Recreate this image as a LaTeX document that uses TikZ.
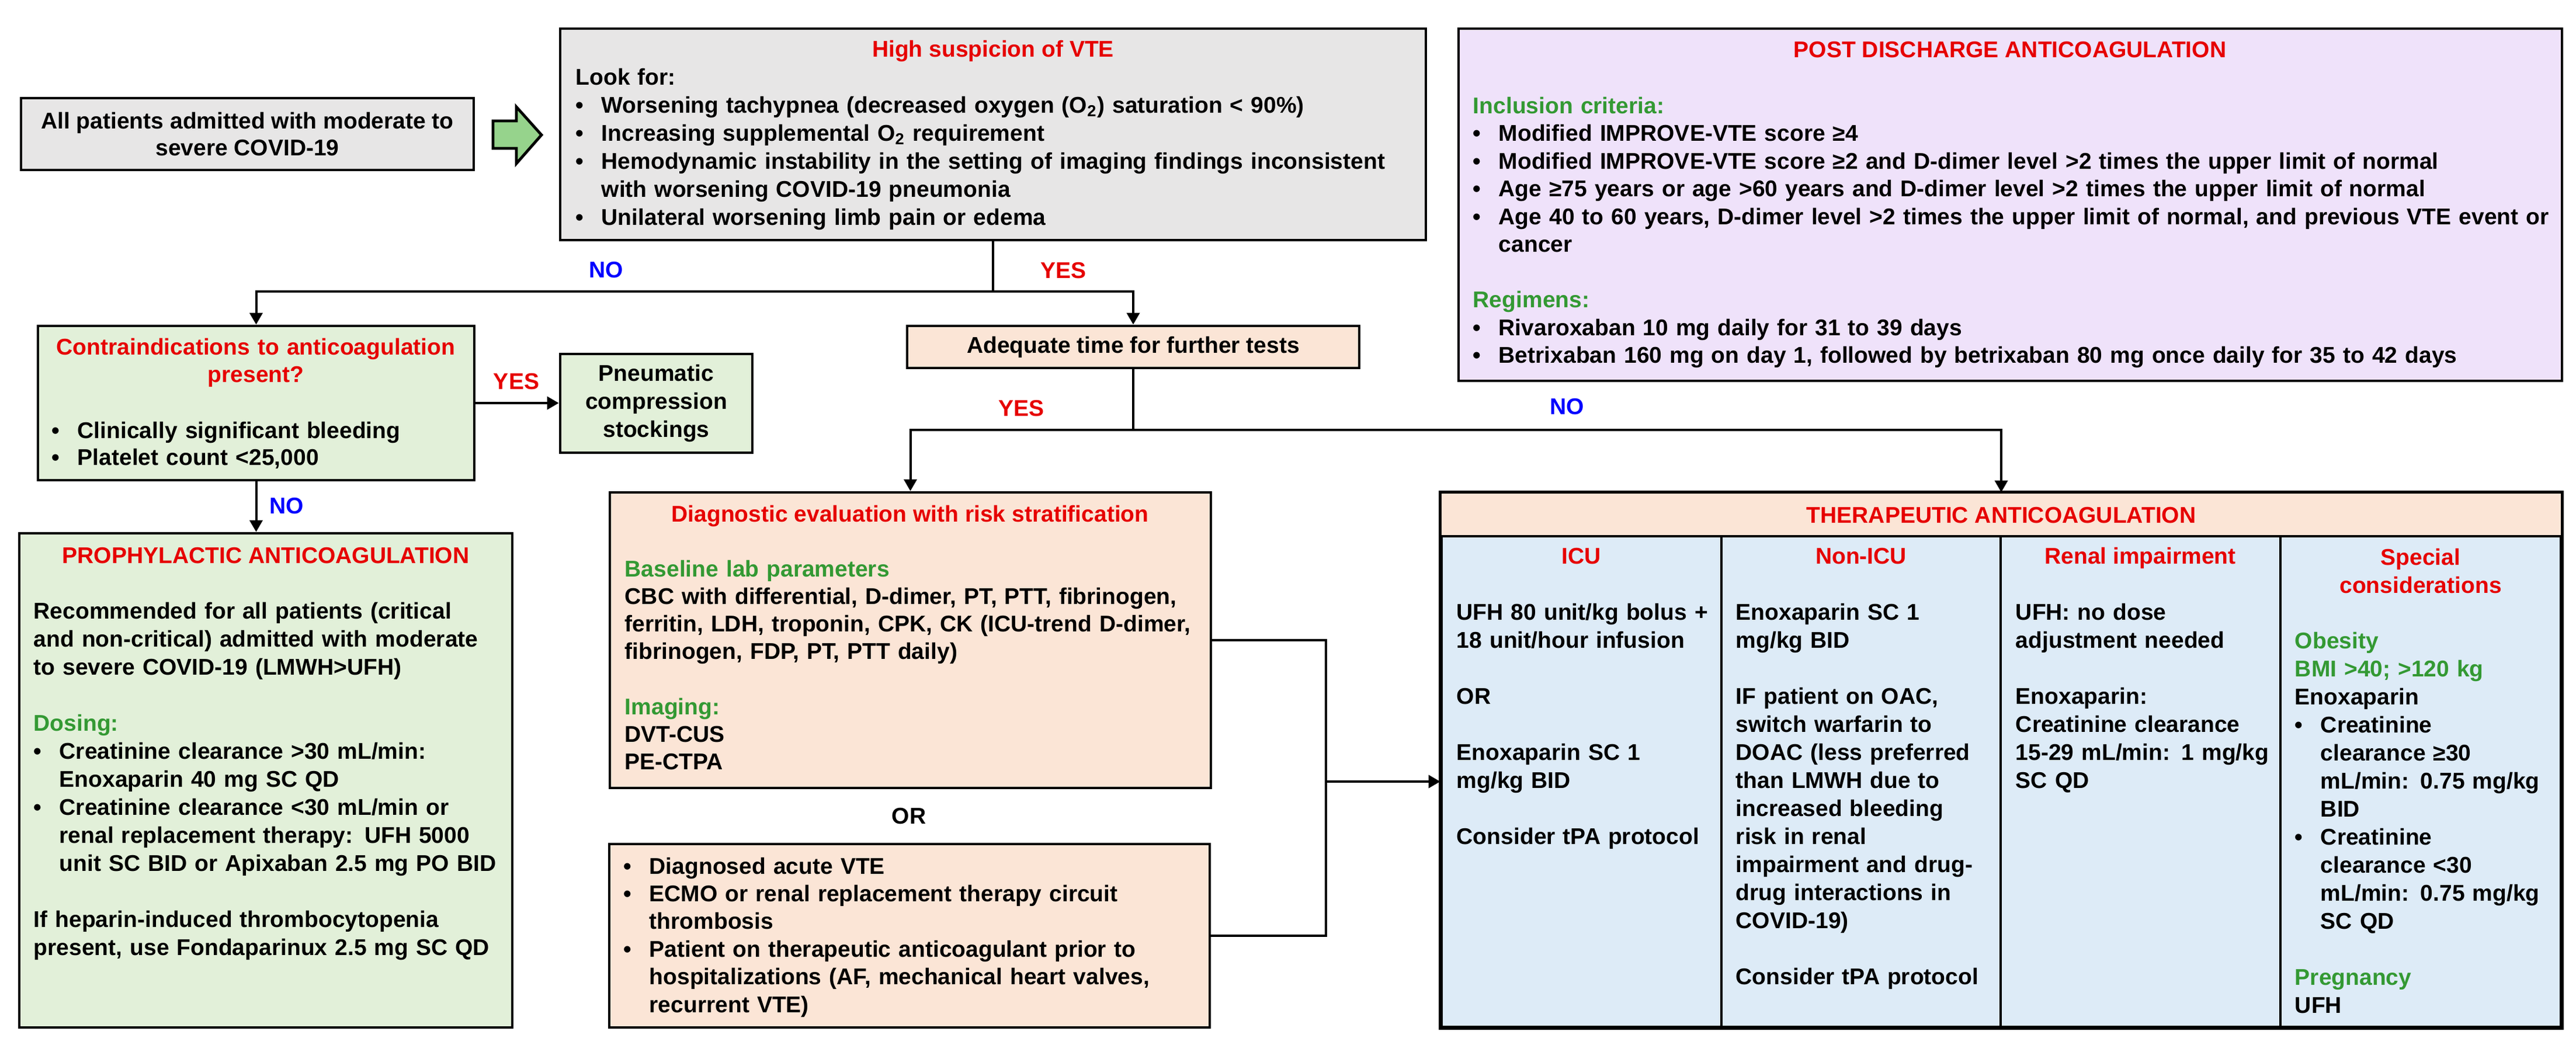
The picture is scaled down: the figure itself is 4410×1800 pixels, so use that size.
\documentclass[tikz,border=0pt]{standalone}
\usepackage{fontspec}
\setmainfont{Liberation Sans}
\usetikzlibrary{arrows.meta,fit}
\definecolor{boxgray}{HTML}{E7E6E6}
\definecolor{boxgreen}{HTML}{E2F0D9}
\definecolor{boxpeach}{HTML}{FBE5D6}
\definecolor{boxlav}{HTML}{EFE2FA}
\definecolor{boxblue}{HTML}{DDEBF7}
\definecolor{txtred}{HTML}{E60000}
\definecolor{txtgreen}{HTML}{339933}
\definecolor{txtblue}{HTML}{0000FF}
\definecolor{arrowgreen}{HTML}{96D38C}
\newcommand\bul{\makebox[11pt][l]{•}}
\newcommand\ind{\hspace*{11pt}}
\newcommand\grn[1]{\textcolor{txtgreen}{#1}}
\newcommand\bodyfont{\bfseries\fontsize{9.75}{12}\selectfont}
\tikzset{
  box/.style={draw=black, line width=1.2pt, inner sep=0pt, rectangle},
  body/.style={anchor=base west, text width=#1, align=left, inner sep=0pt, font=\bodyfont},
  body/.default=400pt,
  ttl/.style={anchor=base, inner sep=0pt, text=txtred, font=\bodyfont},
  lbl/.style={inner sep=0pt, font=\bodyfont},
  conn/.style={line width=1pt, draw=black},
  arr/.style={conn, -{Triangle[length=5pt,width=5.5pt]}},
}
\begin{document}
\begin{tikzpicture}[x=0.25pt,y=-0.25pt]
\useasboundingbox (0,0) rectangle (4410,1800);

% ---------- boxes ----------
\node[box, fill=boxgray, fit={(36,168)(811,291)}] (start) {};
\node[box, fill=boxgray, fit={(959,49)(2441,411)}] (susp) {};
\node[box, fill=boxlav, fit={(2497,49)(4386,652)}] (post) {};
\node[box, fill=boxgreen, fit={(65,558)(812,822)}] (contra) {};
\node[box, fill=boxgreen, fit={(959,606)(1288,775)}] (pneu) {};
\node[box, fill=boxgreen, fit={(33,913)(877,1759)}] (proph) {};
\node[box, fill=boxpeach, fit={(1553,558)(2327,630)}] (adeq) {};
\node[box, fill=boxpeach, fit={(1044,843)(2073,1349)}] (diag) {};
\node[box, fill=boxpeach, fit={(1043,1445)(2071,1759)}] (orb) {};
\node[box, fill=boxblue, fit={(2468,845)(4384,1758)}] (ther) {};
\fill[boxpeach] (2468,845) rectangle (4384,918);
\draw[line width=1.2pt] (2468,918) -- (4384,918);
\draw[line width=1.2pt] (2947,918) -- (2947,1758);
\draw[line width=1.2pt] (3425,918) -- (3425,1758);
\draw[line width=1.2pt] (3904,918) -- (3904,1758);
\draw[box] (ther.north west) rectangle (ther.south east);

% ---------- green block arrow ----------
\draw[line width=1.2pt, fill=arrowgreen, line join=miter]
  (844,207) -- (884,207) -- (884,183) -- (927,231) -- (884,280) -- (884,254) -- (844,254) -- cycle;

% ---------- texts ----------
\node[lbl, align=center, font=\bfseries\fontsize{9.75}{11.5}\selectfont] (startT) at (start.center)
  {All patients admitted with moderate to\\severe COVID-19};

\node[ttl] (suspT) at (1700,97) {High suspicion of VTE};
\node[body=400pt] (suspB) at (985,145) {Look for:\\
\bul Worsening tachypnea (decreased oxygen (O\textsubscript{2}) saturation < 90\%)\\
\bul Increasing supplemental O\textsubscript{2} requirement\\
\bul Hemodynamic instability in the setting of imaging findings inconsistent\\
\ind with worsening COVID-19 pneumonia\\
\bul Unilateral worsening limb pain or edema};

\node[ttl] (postT) at (3441,98) {POST DISCHARGE ANTICOAGULATION};
\node[body=480pt, font=\bfseries\fontsize{9.75}{11.88}\selectfont] (postB) at (2521,194) {\grn{Inclusion criteria:}\\
\bul Modified IMPROVE-VTE score ≥4\\
\bul Modified IMPROVE-VTE score ≥2 and D-dimer level >2 times the upper limit of normal\\
\bul Age ≥75 years or age >60 years and D-dimer level >2 times the upper limit of normal\\
\bul Age 40 to 60 years, D-dimer level >2 times the upper limit of normal, and previous VTE event or\\
\ind cancer\\[11.88pt]
\grn{Regimens:}\\
\bul Rivaroxaban 10 mg daily for 31 to 39 days\\
\bul Betrixaban 160 mg on day 1, followed by betrixaban 80 mg once daily for 35 to 42 days};

\node[ttl, text width=200pt, align=center, font=\bfseries\fontsize{9.75}{11.75}\selectfont] (contraT) at (438,607)
  {Contraindications to anticoagulation\\present?};
\node[body=200pt, font=\bfseries\fontsize{9.75}{11.5}\selectfont] (contraB) at (88,750) {\bul Clinically significant bleeding\\
\bul Platelet count <25,000};

\node[lbl, align=center, font=\bfseries\fontsize{9.75}{12.1}\selectfont] (pneuT) at (pneu.center) {Pneumatic\\compression\\stockings};

\node[ttl] (prophT) at (455,964) {PROPHYLACTIC ANTICOAGULATION};
\node[body=220pt] (prophB) at (57,1059) {Recommended for all patients (critical\\
and non-critical) admitted with moderate\\
to severe COVID-19 (LMWH>UFH)\\[12pt]
\grn{Dosing:}\\
\bul Creatinine clearance >30 mL/min:\\
\ind Enoxaparin 40 mg SC QD\\
\bul Creatinine clearance <30 mL/min or\\
\ind renal replacement therapy: UFH 5000\\
\ind unit SC BID or Apixaban 2.5 mg PO BID\\[12pt]
If heparin-induced thrombocytopenia\\
present, use Fondaparinux 2.5 mg SC QD};

\node[lbl] (adeqT) at (adeq.center) {Adequate time for further tests};

\node[ttl] (diagT) at (1558,893) {Diagnostic evaluation with risk stratification};
\node[body=260pt, font=\bfseries\fontsize{9.75}{11.8}\selectfont] (diagB) at (1069,987) {\grn{Baseline lab parameters}\\
CBC with differential, D-dimer, PT, PTT, fibrinogen,\\
ferritin, LDH, troponin, CPK, CK (ICU-trend D-dimer,\\
fibrinogen, FDP, PT, PTT daily)\\[11.8pt]
\grn{Imaging:}\\
DVT-CUS\\
PE-CTPA};

\node[body=260pt, font=\bfseries\fontsize{9.75}{11.85}\selectfont] (orbB) at (1067,1496) {\bul Diagnosed acute VTE\\
\bul ECMO or renal replacement therapy circuit\\
\ind thrombosis\\
\bul Patient on therapeutic anticoagulant prior to\\
\ind hospitalizations (AF, mechanical heart valves,\\
\ind recurrent VTE)};

\node[ttl] (therT) at (3426,895) {THERAPEUTIC ANTICOAGULATION};
\node[ttl] (icuT) at (2707,965) {ICU};
\node[ttl] (nicuT) at (3186,965) {Non-ICU};
\node[ttl] (renT) at (3664,965) {Renal impairment};
\node[ttl, text width=115pt, align=center] (spT) at (4144,967) {Special\\considerations};

\node[body=115pt] (icuB) at (2493,1061) {UFH 80 unit/kg bolus +\\
18 unit/hour infusion\\[12pt]
OR\\[12pt]
Enoxaparin SC 1\\
mg/kg BID\\[12pt]
Consider tPA protocol};

\node[body=115pt] (nicuB) at (2971,1061) {Enoxaparin SC 1\\
mg/kg BID\\[12pt]
IF patient on OAC,\\
switch warfarin to\\
DOAC (less preferred\\
than LMWH due to\\
increased bleeding\\
risk in renal\\
impairment and drug-\\
drug interactions in\\
COVID-19)\\[12pt]
Consider tPA protocol};

\node[body=115pt] (renB) at (3450,1061) {UFH: no dose\\
adjustment needed\\[12pt]
Enoxaparin:\\
Creatinine clearance\\
15-29 mL/min: 1 mg/kg\\
SC QD};

\node[body=115pt] (spB) at (3928,1110) {\grn{Obesity}\\
\grn{BMI >40; >120 kg}\\
Enoxaparin\\
\bul Creatinine\\
\ind clearance ≥30\\
\ind mL/min: 0.75 mg/kg\\
\ind BID\\
\bul Creatinine\\
\ind clearance <30\\
\ind mL/min: 0.75 mg/kg\\
\ind SC QD\\[12pt]
\grn{Pregnancy}\\
UFH};

% ---------- connectors ----------
\coordinate (j1) at (susp.south |- 0,499);
\draw[conn] (susp.south) -- (j1);
\draw[arr] (j1) -| (contra.north);
\draw[arr] (j1) -| (adeq.north);
\draw[arr] (contra.east) -- (contra.east -| pneu.west);
\draw[arr] (contra.south) -- (contra.south |- proph.north);
\coordinate (j2) at (adeq.south |- 0,736);
\draw[conn] (adeq.south) -- (j2);
\draw[arr] (j2) -| (diag.north);
\draw[arr] (j2) -| (ther.north);
\coordinate (j3) at (2270,1338);
\draw[conn] (diag.east) -| (j3);
\draw[conn] (orb.east) -| (j3);
\draw[arr] (j3) -- (j3 -| ther.west);

% ---------- labels ----------
\node[lbl, text=txtblue] (no1) at (1038,462) {NO};
\node[lbl, text=txtred] (yes1) at (1820,463) {YES};
\node[lbl, text=txtred] (yes2) at (884,653) {YES};
\node[lbl, text=txtblue] (no2) at (491,866) {NO};
\node[lbl, text=txtred] (yes3) at (1748,699) {YES};
\node[lbl, text=txtblue] (no3) at (2683,696) {NO};
\node[lbl] (orT) at (1556,1397) {OR};
\end{tikzpicture}
\end{document}
